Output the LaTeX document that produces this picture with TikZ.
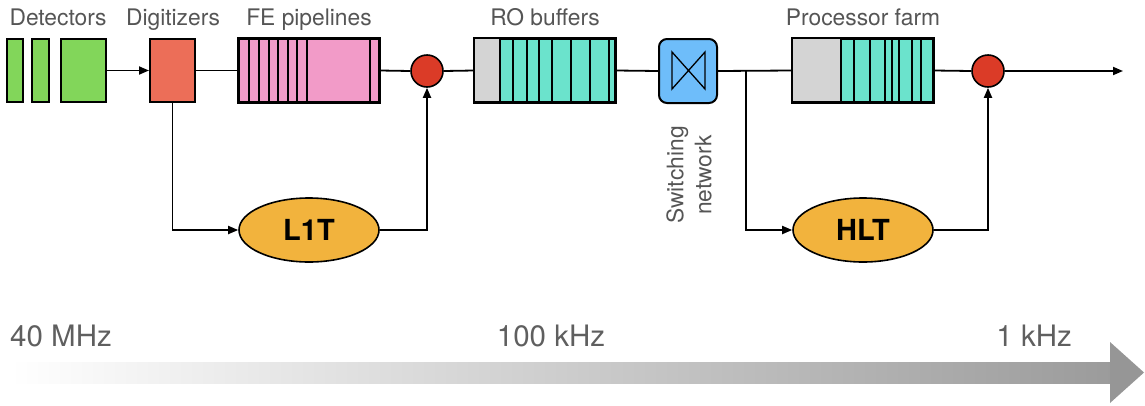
\documentclass[tikz,border=0pt]{standalone}
\usepackage{fontspec}
\setmainfont{TeX Gyre Heros}
\usetikzlibrary{arrows.meta,shapes.geometric}
\definecolor{detgreen}{RGB}{130,214,90}
\definecolor{digred}{RGB}{236,110,88}
\definecolor{fepink}{RGB}{242,155,200}
\definecolor{dotred}{RGB}{219,59,39}
\definecolor{bufteal}{RGB}{107,227,204}
\definecolor{bufgray}{RGB}{212,212,212}
\definecolor{swblue}{RGB}{110,189,250}
\definecolor{trigorange}{RGB}{242,179,61}
\definecolor{labelgray}{RGB}{85,85,85}
\definecolor{rategray}{RGB}{95,95,95}
\definecolor{arrowgray}{RGB}{150,150,150}
\begin{document}
\begin{tikzpicture}[x=1pt,y=-1pt,
  box/.style={draw=black,line width=2pt,inner sep=0pt,minimum height=63pt},
  divline/.style={line width=1.5pt},
  conn/.style={line width=1.8pt},
  tip/.style={-{Triangle[length=10pt,width=8pt]}},
  dot/.style={circle,draw=black,line width=1.6pt,fill=dotred,minimum size=32pt,inner sep=0pt},
  trig/.style={ellipse,draw=black,line width=1.6pt,fill=trigorange,minimum width=140pt,minimum height=64pt,inner sep=0pt,font=\fontsize{29}{34}\selectfont\bfseries},
  toplabel/.style={anchor=base,inner sep=0pt,text=labelgray,font=\fontsize{22.8}{27}\selectfont},
  ratelabel/.style={inner sep=0pt,text=rategray,font=\fontsize{29.5}{34}\selectfont}]
\useasboundingbox (0,0) rectangle (1145,405);

% rate arrow
\shade[left color=white,right color=arrowgray!95] (10,362) rectangle (1110,383);
\fill[arrowgray] (1110,342) -- (1144,372.5) -- (1110,403) -- cycle;

% detectors
\node[box,fill=detgreen,minimum width=16pt] (d1) at (15,70.5) {};
\node[box,fill=detgreen,minimum width=17pt] (d2) at (40.5,70.5) {};
\node[box,fill=detgreen,minimum width=45pt] (d3) at (83.5,70.5) {};
% digitizer
\node[box,fill=digred,minimum width=45pt] (dig) at (172.5,70.5) {};
% FE pipelines
\node[box,fill=fepink,minimum width=140pt] (fe) at (309,70.5) {};
\foreach \x in {249,259,269,278,288,297,307,370}
  \draw[divline] (\x,39) -- (\x,102);
\draw[line width=2pt] (fe.north west) rectangle (fe.south east);
% first decision
\node[dot] (c1) at (427,71) {};
% RO buffers
\node[box,fill=bufteal,minimum width=140pt] (ro) at (545,70.5) {};
\foreach \x in {513,527,539,552,571,590,609}
  \draw[divline] (\x,39) -- (\x,102);
\filldraw[fill=bufgray,draw=black,line width=2pt] (ro.north west) rectangle (500,102);
\draw[line width=2pt] (ro.north west) rectangle (ro.south east);
% switching network
\node[draw=black,line width=2pt,fill=swblue,rounded corners=8pt,minimum width=58pt,minimum height=64pt,inner sep=0pt] (sw) at (688,71) {};
\draw[line width=1.3pt,line join=miter] (672,52) -- (672,89) -- (705,52) -- (705,89) -- cycle;
\node[rotate=90,align=center,inner sep=0pt,text=labelgray,font=\fontsize{22.8}{28}\selectfont] (swlabel) at (689,175) {Switching\\network};
% processor farm
\node[box,fill=bufteal,minimum width=140pt] (farm) at (863,70.5) {};
\foreach \x in {854,870,885,892,899,912,921}
  \draw[divline] (\x,39) -- (\x,102);
\filldraw[fill=bufgray,draw=black,line width=2pt] (farm.north west) rectangle (841,102);
\draw[line width=2pt] (farm.north west) rectangle (farm.south east);
% second decision
\node[dot] (c2) at (988,71) {};
% triggers
\node[trig] (l1t) at (309,230) {L1T};
\node[trig] (hlt) at (863,230) {HLT};

% labels
\node[toplabel] (ldet) at (58,25) {Detectors};
\node[toplabel] (ldig) at (173,25) {Digitizers};
\node[toplabel] (lfe) at (309,25) {FE pipelines};
\node[toplabel] (lro) at (545,25) {RO buffers};
\node[toplabel] (lfarm) at (863,25) {Processor farm};
\node[ratelabel,anchor=base west] (r1) at (10,346) {40 MHz};
\node[ratelabel,anchor=base] (r2) at (551,346) {100 kHz};
\node[ratelabel,anchor=base east] (r3) at (1072,346) {1 kHz};

% connectors
\coordinate (out) at (1123,71);
\coordinate (br) at (746,71);
\draw[conn,tip] (d3.east) -- (dig.west);
\draw[conn] (dig.east) -- (fe.west);
\draw[conn] (fe.east) -- (c1.west);
\draw[conn] (c1.east) -- (ro.west);
\draw[conn] (ro.east) -- (sw.west);
\draw[conn] (sw.east) -- (farm.west);
\draw[conn] (farm.east) -- (c2.west);
\draw[conn,tip] (c2.east) -- (out);
\draw[conn,tip] (dig.south) |- (l1t.west);
\draw[conn,tip] (l1t.east) -| (c1.south);
\draw[conn,tip] (br) |- (hlt.west);
\draw[conn,tip] (hlt.east) -| (c2.south);
\end{tikzpicture}
\end{document}
